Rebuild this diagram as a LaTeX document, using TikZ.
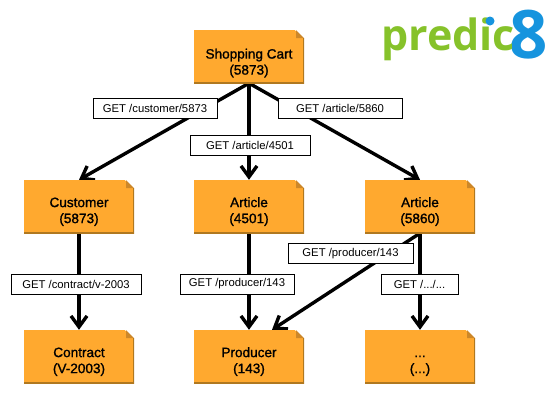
\documentclass[tikz,border=0pt]{standalone}
\usepackage{fontspec}
\setmainfont{Liberation Sans}
\newfontfamily\logofont{Open Sans}
\newfontfamily\boxfont{Liberation Sans}[FakeBold=1.2]
\usetikzlibrary{arrows.meta,backgrounds}
\definecolor{boxorange}{RGB}{255,169,47}
\definecolor{boxedge}{RGB}{176,120,32}
\definecolor{boxfold}{RGB}{205,135,40}
\definecolor{logogreen}{RGB}{134,194,42}
\definecolor{logoblue}{RGB}{22,148,222}

\begin{document}
\begin{tikzpicture}[
  x=1pt,
  y=-1pt,
  >={Straight Barb[length=11pt,width=16pt,line width=3.4pt]},
  docbox/.style={minimum width=110pt, minimum height=53pt, inner sep=0pt, align=center,
    fill=boxorange, font=\fontsize{13.6}{16}\boxfont,
    path picture={
      \fill[white] (path picture bounding box.north east) -- ++(-9pt,0pt) -- ++(9pt,-9pt) -- cycle;
      \fill[boxfold] ([xshift=-8pt]path picture bounding box.north east) -- ++(8pt,-8pt) -- ++(-8pt,0pt) -- cycle;
      \draw[boxedge, line width=2pt] ([yshift=-8pt]path picture bounding box.north east) -- (path picture bounding box.south east) -- (path picture bounding box.south west);
    }},
  getlabel/.style={draw, fill=white, line width=1pt, minimum height=20pt, inner sep=0pt, font=\fontsize{11.3}{13}\selectfont},
  link/.style={->, line width=3.4pt}
]
\useasboundingbox (0,0) rectangle (557,416);

\node[logoblue, font=\logofont\bfseries\fontsize{67}{67}\selectfont, anchor=base] (eight) at (528.5,58) {8};
\node[logogreen, font=\logofont\bfseries\fontsize{43}{43}\selectfont, anchor=base west, inner sep=0pt] (logo) at (381,50) {predic};
\fill[logoblue] (490,21) circle (4.5);

\node[docbox] (cart) at (249,56.5) {\rule{0pt}{23pt}Shopping Cart\\(5873)};
\node[docbox] (customer) at (79,206.5) {\rule{0pt}{20pt}Customer\\(5873)};
\node[docbox] (article4501) at (249,206.5) {\rule{0pt}{20pt}Article\\(4501)};
\node[docbox] (article5860) at (420,206.5) {\rule{0pt}{20pt}Article\\(5860)};
\node[docbox] (contract) at (79,356.5) {\rule{0pt}{20pt}Contract\\(V-2003)};
\node[docbox] (producer) at (249,356.5) {\rule{0pt}{20pt}Producer\\(143)};
\node[docbox] (more) at (420,356.5) {\rule{0pt}{20pt}...\\(...)};

\node[getlabel, minimum width=124pt] (getcustomer) at (155,108.5) {GET /customer/5873};
\node[getlabel, minimum width=120pt] (getarticleA) at (250,145) {GET /article/4501};
\node[getlabel, minimum width=124pt] (getarticleB) at (340,108.5) {GET /article/5860};
\node[getlabel, minimum width=130pt] (getcontract) at (76,284) {GET /contract/v-2003};
\node[getlabel, minimum width=114pt] (getproducerA) at (237,284) {GET /producer/143};
\node[getlabel, minimum width=125pt] (getproducerB) at (350.5,253.5) {GET /producer/143};
\node[getlabel, minimum width=77pt] (getmore) at (419.5,284) {GET /.../...};

\begin{scope}[on background layer]
\draw[link] (cart.south) -- (customer.north);
\draw[link] (cart.south) -- (article4501.north);
\draw[link] (cart.south) -- (article5860.north);
\draw[link] (customer.south) -- (contract.north);
\draw[link] (article4501.south) -- (producer.north);
\draw[link] (article5860.south) -- ([xshift=23pt]producer.north);
\draw[link] (article5860.south) -- (more.north);
\end{scope}
\end{tikzpicture}
\end{document}
